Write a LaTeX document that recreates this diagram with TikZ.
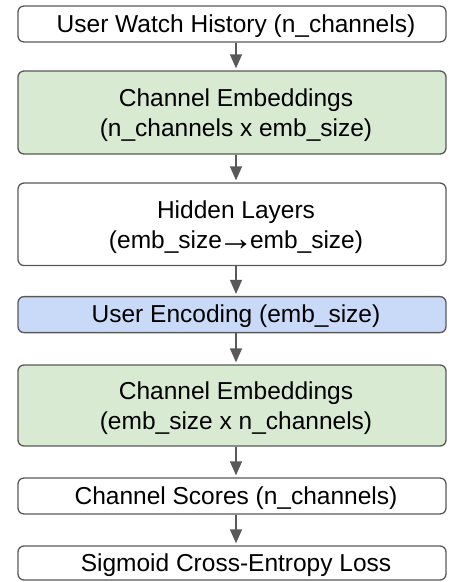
\documentclass[tikz,border=0pt]{standalone}
\usepackage{fontspec}
\setmainfont{Liberation Sans}
\usetikzlibrary{arrows.meta}
\definecolor{edgegray}{HTML}{595959}
\definecolor{greenfill}{HTML}{D9EAD3}
\definecolor{bluefill}{HTML}{C9DAF8}
\newcommand{\smallarrowglyph}{\kern-4pt\raisebox{-2pt}{\fontsize{36}{30}\selectfont →}\kern-4pt}
\begin{document}
\begin{tikzpicture}[x=1pt,y=-1pt,
  box/.style={draw=edgegray, line width=1.3pt, rounded corners=6pt, minimum width=428pt, inner sep=0pt},
  txt/.style={inner sep=0pt, align=center, font=\fontsize{24.5}{30}\selectfont, text=black},
  conn/.style={draw=edgegray, line width=1.3pt, -{Triangle[width=12pt,length=14pt]}, shorten >=2pt}
]
\useasboundingbox (0,0) rectangle (448,582);
% boxes
\node[box, fill=white, minimum height=36pt] (b1) at (232,24) {};
\node[box, fill=greenfill, minimum height=83pt] (b2) at (232,112.5) {};
\node[box, fill=white, minimum height=82.5pt] (b3) at (232,224.3) {};
\node[box, fill=bluefill, minimum height=36pt] (b4) at (232,314.6) {};
\node[box, fill=greenfill, minimum height=81pt] (b5) at (232,405.5) {};
\node[box, fill=white, minimum height=36pt] (b6) at (232,496) {};
\node[box, fill=white, minimum height=34pt] (b7) at (232,563) {};
% texts
\node[txt] (t1) at (236,26) {User Watch History (n\_channels)};
\node[txt] (t2) at (236,115) {Channel Embeddings\\(n\_channels x emb\_size)};
\node[txt] (t3) at (236,227) {Hidden Layers\\(emb\_size\smallarrowglyph emb\_size)};
\node[txt] (t4) at (236,316.6) {User Encoding (emb\_size)};
\node[txt] (t5) at (236,408) {Channel Embeddings\\(emb\_size x n\_channels)};
\node[txt] (t6) at (236,498) {Channel Scores (n\_channels)};
\node[txt] (t7) at (236,565) {Sigmoid Cross-Entropy Loss};
% connectors
\draw[conn] (t1 |- b1.south) -- (t1 |- b2.north);
\draw[conn] (t1 |- b2.south) -- (t1 |- b3.north);
\draw[conn] (t1 |- b3.south) -- (t1 |- b4.north);
\draw[conn] (t1 |- b4.south) -- (t1 |- b5.north);
\draw[conn] (t1 |- b5.south) -- (t1 |- b6.north);
\draw[conn] (t1 |- b6.south) -- (t1 |- b7.north);
\end{tikzpicture}
\end{document}
